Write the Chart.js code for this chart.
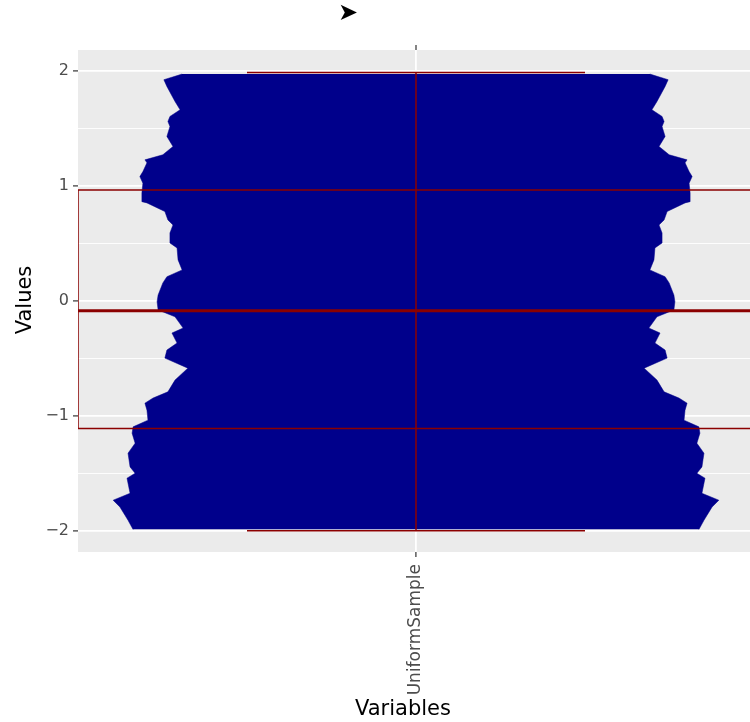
<!DOCTYPE html>
<html>
<head>
<meta charset="utf-8">
<script src="https://cdn.jsdelivr.net/npm/chart.js@4.4.0/dist/chart.umd.min.js"></script>
<style>
  html, body { margin: 0; padding: 0; background: #fff; overflow: hidden; width: 750px; height: 722px; }
  #wrap { width: 760px; height: 722px; position: relative; }
</style>
</head>
<body>
<div id="wrap"><canvas id="chart"></canvas></div>
<script>
// -- data
const categories = ["UniformSample"];
const yTickValues = [-2, -1.5, -1, -0.5, 0, 0.5, 1, 1.5, 2];

// violin outline: value -> half width (in category units, 1 = panel half width)
const violinY = [
  -1.985, -1.904, -1.789, -1.730, -1.670, -1.539, -1.496, -1.441, -1.322, -1.235,
  -1.148, -1.093, -1.035, -0.948, -0.887, -0.843, -0.789, -0.687, -0.583, -0.496,
  -0.426, -0.365, -0.278, -0.235, -0.137, -0.078, -0.006, 0.052, 0.157, 0.211,
  0.270, 0.357, 0.461, 0.504, 0.591, 0.661, 0.704, 0.777, 0.852, 0.863,
  0.939, 1.023, 1.081, 1.124, 1.200, 1.226, 1.270, 1.342, 1.429, 1.516,
  1.559, 1.603, 1.661, 1.733, 1.863, 1.922, 1.971
];
const violinHalfWidth = [
  0.837, 0.852, 0.876, 0.896, 0.846, 0.855, 0.831, 0.846, 0.852, 0.831,
  0.840, 0.837, 0.793, 0.796, 0.802, 0.778, 0.734, 0.713, 0.675, 0.743,
  0.737, 0.707, 0.722, 0.689, 0.713, 0.763, 0.766, 0.763, 0.749, 0.737,
  0.692, 0.704, 0.707, 0.728, 0.728, 0.719, 0.734, 0.743, 0.796, 0.811,
  0.811, 0.808, 0.817, 0.808, 0.796, 0.802, 0.749, 0.719, 0.737, 0.728,
  0.734, 0.728, 0.698, 0.713, 0.737, 0.746, 0.692
];

// box plot stats
const boxQ1 = -1.107;
const boxMedian = -0.084;
const boxQ3 = 0.965;
const whiskerLow = -1.995;
const whiskerHigh = 1.985;
const boxHalfWidth = 1;
const capHalfWidth = 0.5;

// -- helpers
const FONT = '"DejaVu Sans", sans-serif';
const BOX_COLOR = "#8B0000";
const VIOLIN_COLOR = "#00008B";
function fmtTick(v) {
  if (Math.abs(v % 1) > 1e-9) return "";
  return v < 0 ? "\u2212" + Math.abs(v) : String(v);
}
function seg(pts) {
  return {
    data: pts,
    borderColor: BOX_COLOR,
    borderWidth: 1.5,
    pointRadius: 0,
    fill: false,
    order: 1,
  };
}

// panel background + free texts
const decorPlugin = {
  id: "decor",
  beforeDraw(chart) {
    const { ctx, chartArea: a } = chart;
    ctx.save();
    ctx.fillStyle = "#EBEBEB";
    ctx.fillRect(a.left, a.top, a.right - a.left, a.bottom - a.top);
    ctx.restore();
  },
  afterDraw(chart) {
    const { ctx, chartArea: a } = chart;
    const x0 = chart.scales.x.getPixelForValue(0);
    ctx.save();
    // tick above the panel
    ctx.strokeStyle = "#333333";
    ctx.lineWidth = 1.2;
    ctx.beginPath();
    ctx.moveTo(x0, a.top - 5);
    ctx.lineTo(x0, a.top);
    ctx.stroke();
    // title glyph
    ctx.fillStyle = "#000";
    ctx.font = "24px " + FONT;
    ctx.textAlign = "center";
    ctx.textBaseline = "middle";
    ctx.fillText("\u27A4", 348, 14);
    // axis titles
    ctx.font = "21px " + FONT;
    ctx.textBaseline = "alphabetic";
    ctx.fillText("Variables", 403, 715);
    ctx.translate(31, 300);
    ctx.rotate(-Math.PI / 2);
    ctx.fillText("Values", 0, 0);
    ctx.restore();
  },
};

const ctx = document.getElementById("chart").getContext("2d");
new Chart(ctx, {
  type: "line",
  data: {
    datasets: [
      {
        data: violinY.map((y, i) => ({ x: -violinHalfWidth[i], y })),
        borderColor: VIOLIN_COLOR,
        borderWidth: 0.5,
        backgroundColor: VIOLIN_COLOR,
        pointRadius: 0,
        fill: "origin",
        order: 3,
      },
      {
        data: violinY.map((y, i) => ({ x: violinHalfWidth[i], y })),
        borderColor: VIOLIN_COLOR,
        borderWidth: 0.5,
        backgroundColor: VIOLIN_COLOR,
        pointRadius: 0,
        fill: "origin",
        order: 3,
      },
      seg([
        { x: -boxHalfWidth, y: boxQ1 },
        { x: -boxHalfWidth, y: boxQ3 },
        { x: boxHalfWidth, y: boxQ3 },
        { x: boxHalfWidth, y: boxQ1 },
        { x: -boxHalfWidth, y: boxQ1 },
      ]),
      seg([{ x: 0, y: whiskerLow }, { x: 0, y: whiskerHigh }]),
      seg([{ x: -capHalfWidth, y: whiskerHigh }, { x: capHalfWidth, y: whiskerHigh }]),
      seg([{ x: -capHalfWidth, y: whiskerLow }, { x: capHalfWidth, y: whiskerLow }]),
      Object.assign(seg([{ x: -boxHalfWidth, y: boxMedian }, { x: boxHalfWidth, y: boxMedian }]), { borderWidth: 3 }),
    ],
  },
  options: {
    indexAxis: "y",
    responsive: true,
    maintainAspectRatio: false,
    animation: false,
    events: [],
    layout: { padding: { top: 50, right: 6, left: 0, bottom: 0 } },
    plugins: { legend: { display: false }, tooltip: { enabled: false } },
    scales: {
      x: {
        type: "linear",
        min: -1,
        max: 1,
        afterBuildTicks: (s) => { s.ticks = [{ value: 0 }]; },
        afterFit: (s) => { s.height = 170; },
        border: { display: false },
        grid: { color: "#FFFFFF", lineWidth: 1.8, tickColor: "#333333", tickLength: 5, tickWidth: 1.2 },
        ticks: {
          autoSkip: false,
          minRotation: 90,
          maxRotation: 90,
          padding: 7,
          color: "#4D4D4D",
          font: { family: FONT, size: 17 },
          callback: () => categories[0],
        },
      },
      y: {
        type: "linear",
        min: -2.18,
        max: 2.18,
        afterBuildTicks: (s) => { s.ticks = yTickValues.map((v) => ({ value: v })); },
        afterFit: (s) => { s.width = 78; },
        border: { display: false },
        grid: {
          color: "#FFFFFF",
          lineWidth: (c) => (c.tick && c.tick.value % 1 === 0 ? 1.8 : 0.9),
          tickColor: (c) => (c.tick && c.tick.value % 1 === 0 ? "#333333" : "rgba(0,0,0,0)"),
          tickLength: 5,
          tickWidth: 1.2,
        },
        ticks: {
          padding: 4,
          color: "#4D4D4D",
          font: { family: FONT, size: 16 },
          callback: (v) => fmtTick(v),
        },
      },
    },
  },
  plugins: [decorPlugin],
});
</script>
</body>
</html>
